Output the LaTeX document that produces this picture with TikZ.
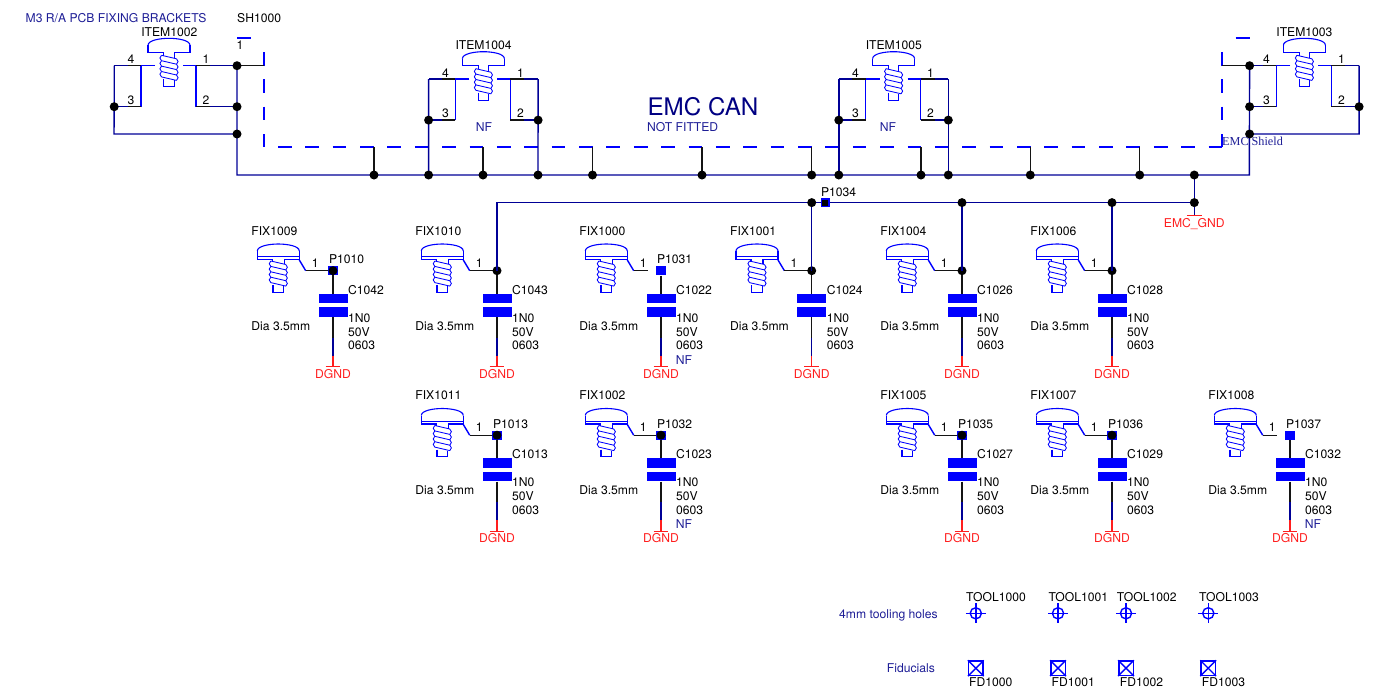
\documentclass[tikz,border=0pt]{standalone}
\usepackage{fontspec}
\setmainfont{TeX Gyre Heros}
\newfontfamily\serifface{Liberation Serif}
\definecolor{wirec}{RGB}{0,0,150}
\definecolor{titlec}{RGB}{30,30,150}
\definecolor{canc}{RGB}{0,0,130}
\definecolor{pinc}{RGB}{20,20,20}
\definecolor{symc}{RGB}{0,0,255}
\definecolor{gndc}{RGB}{255,30,30}
\tikzset{
  wire/.style={draw=wirec,line width=1.4pt,line join=miter},
  pinline/.style={draw=pinc,line width=1.3pt},
  symline/.style={draw=symc,line width=1.4pt},
  thin sym/.style={draw=symc,line width=1.1pt},
  thread sym/.style={draw=symc,line width=0.85pt},
  gndline/.style={draw=gndc,line width=1.4pt},
  shield/.style={draw=symc,line width=1.5pt,dash pattern=on 13.7pt off 13.67pt},
  junction/.style={circle,fill=black,inner sep=0pt,minimum size=9pt},
  padsq/.style={rectangle,fill=symc,inner sep=0pt,minimum size=9.4pt},
  plate/.style={rectangle,fill=symc,inner sep=0pt,minimum width=29pt,minimum height=9.6pt},
  lbl/.style={inner sep=0pt,text height=8.6pt,text depth=0pt,font=\fontsize{12.15}{14}\selectfont,text=black},
  lblw/.style={lbl,anchor=west},
  blu/.style={lbl,text=titlec},
  bluw/.style={blu,anchor=west},
  gnd/.style={lbl,text=gndc},
}
% screw body, origin at centre of the top of the head
\newcommand\screwbody{%
  \draw[thin sym] (-21,7) .. controls (-21,2) and (-9,0) .. (0,0) .. controls (9,0) and (21,2) .. (21,7);
  \foreach \ty in {17,22.4,27.8,33.2,38.6}{
    \draw[thread sym] (-7.5,\ty) -- (7.5,\ty+3.5);
  }
  \foreach \ty in {17,22.4,27.8,33.2}{
    \draw[thread sym] (-7.5,\ty) .. controls (-9.6,\ty+1) and (-9.6,\ty+4.4) .. (-7.5,\ty+5.4);
    \draw[thread sym] (7.5,\ty+3.5) .. controls (9.6,\ty+4.5) and (9.6,\ty+7.9) .. (7.5,\ty+8.9);
  }
  \draw[thin sym] (-5.3,41) -- (-5.3,48.4) -- (5.3,48.4) -- (5.3,42);
}
\newcommand\screwhead{%
  \draw[thin sym] (-21,7) -- (-21,14) -- (-5.3,14) -- (-5.3,17.5);
  \draw[thin sym] (21,7) -- (21,14) -- (5.3,14) -- (5.3,20);
  \screwbody
}
\newcommand\screwfix{%
  \draw[thin sym] (-21,7) -- (-21,15.5) -- (-6,15.5) -- (-6,17.5);
  \draw[thin sym] (21,7) -- (21,15.5) -- (6,15.5) -- (6,20);
  \draw[thin sym] (-21,12.8) -- (21,12.8);
  \screwbody
}
% id, cx, ytop, right outer offset
\newcommand\itemsym[4]{%
  \begin{scope}[shift={(#2,#3)}]
    \screwhead
    \coordinate (#1lo) at (-54.8,27.4);  \coordinate (#1lm) at (-41.5,27.4);
    \coordinate (#1li) at (-28,27.4);    \coordinate (#1lp) at (-14,27.4);
    \coordinate (#1bo) at (-54.8,68.4);  \coordinate (#1bm) at (-41.5,68.4);
    \coordinate (#1bi) at (-28,68.4);
    \coordinate (#1ro) at (#4,27.4);     \coordinate (#1rm) at (41,27.4);
    \coordinate (#1ri) at (27,27.4);     \coordinate (#1rp) at (14,27.4);
    \coordinate (#1so) at (#4,68.4);     \coordinate (#1sm) at (41,68.4);
    \coordinate (#1si) at (27,68.4);
    \draw[symline] (#1lp) -- (#1li) -- (#1bi);
    \draw[symline] (#1rp) -- (#1ri) -- (#1si);
    \draw[pinline] (#1li) -- (#1lm);
    \draw[pinline] (#1bi) -- (#1bm);
    \draw[pinline] (#1ri) -- (#1rm);
    \draw[pinline] (#1si) -- (#1sm);
    \draw[wire] (#1lm) -- (#1lo);
    \draw[wire] (#1bm) -- (#1bo);
    \draw[wire] (#1rm) -- (#1ro);
    \draw[wire] (#1sm) -- (#1so);
    \node[lbl] (#1n4) at (-38,21) {4};
    \node[lbl] (#1n3) at (-38,61.7) {3};
    \node[lbl] (#1n1) at (37,21) {1};
    \node[lbl] (#1n2) at (37,61.7) {2};
  \end{scope}
}
% id, cx, dy, FIX, P, C, kind(0 wire dot,1 pad+dot,2 pad only), NF text
\newcommand\fixunit[8]{%
  \begin{scope}[shift={(#2,270.7+#3)}]
    \begin{scope}[shift={(-54.7,-26.7)}]\screwfix\end{scope}
    \node[lblw] (#1fx) at (-81.8,-40) {#4};
    \coordinate (#1p0) at (-33.7,-10.7);
    \coordinate (#1p1) at (-27.3,0);
    \coordinate (#1p2) at (-13,0);
    \coordinate (#1dc) at (0,0);
    \draw[symline] (#1p0) -- (#1p1);
    \ifnum#7=2
      \draw[pinline] (#1p1) -- (#1p2);
      \node[padsq] (#1dot) at (#1dc) {};
    \else
      \draw[pinline] (#1p1) -- (#1dc);
      \ifnum#7=1 \node[padsq] (#1sq) at (#1dc) {};\fi
      \node[junction] (#1dot) at (#1dc) {};
    \fi
    \node[lblw] (#1pl) at (-4.2,-11.4) {#5};
    \node[plate] (#1ca) at (0,27.8) {};
    \node[plate] (#1cb) at (0,41.3) {};
    \coordinate (#1w1) at (0,67);
    \coordinate (#1w2) at (0,85);
    \coordinate (#1gc) at (0,96);
    \coordinate (#1gl) at (-7.3,96);
    \coordinate (#1gr) at (7.3,96);
    \draw[pinline] (#1dot) -- (#1ca);
    \draw[pinline] (#1cb) -- (#1w1);
    \draw[wire] (#1w1) -- (#1w2);
    \draw[gndline] (#1w2) -- (#1gc);
    \draw[gndline] (#1gl) -- (#1gr);
    \node[lbl] (#1one) at (-17.7,-7.7) {1};
    \node[lblw] (#1cl) at (15,19.3) {#6};
    \node[lblw] (#1v1) at (15,47.3) {1N0};
    \node[lblw] (#1v2) at (15,61.3) {50V};
    \node[lblw] (#1v3) at (15,74.8) {0603};
    \node[bluw] (#1nf) at (14.7,89.3) {#8};
    \node[lblw] (#1di) at (-81.8,55.3) {Dia 3.5mm};
    \node[gnd] (#1dg) at (0,103.3) {DGND};
  \end{scope}
}
\newcommand\toolhole[3]{%
  \coordinate (#1c) at (#2,613.3);
  \coordinate (#1l) at (#2-10,613.3); \coordinate (#1r) at (#2+10,613.3);
  \coordinate (#1t) at (#2,603.3);    \coordinate (#1b) at (#2,623.3);
  \draw[symline] (#1l) -- (#1r);
  \draw[symline] (#1t) -- (#1b);
  \draw[symline] (#1c) circle (5.6);
}
\newcommand\fiducial[2]{%
  \node[draw=symc,line width=1.4pt,rectangle,inner sep=0pt,minimum size=14.4pt] (#1) at (#2,668.2) {};
  \draw[symline] (#1.north west) -- (#1.south east);
  \draw[symline] (#1.north east) -- (#1.south west);
}
\begin{document}
\begin{tikzpicture}[x=1pt,y=-1pt]
\useasboundingbox (0,0) rectangle (1398,697);

% ---- shield outline
\coordinate (sa) at (264,52);
\coordinate (sb) at (264,147.2);
\coordinate (sc) at (278,147.2);
\coordinate (sd) at (1222,147.2);
\coordinate (se) at (1222,52);
\coordinate (sf) at (237,38);
\coordinate (sg) at (251,38);
\coordinate (sh) at (1235.5,38);
\coordinate (si) at (1249.5,38);
\draw[shield] (sa) -- (sb);
\draw[shield] (sc) -- (sd);
\draw[shield] (se) -- (sd);
\draw[symline] (sf) -- (sg);
\draw[symline] (sh) -- (si);

% ---- brackets
\itemsym{ia}{169}{38.3}{68}
\itemsym{ib}{483.4}{51.7}{54.7}
\itemsym{ic}{893.6}{51.7}{54.7}
\itemsym{id}{1304.4}{38.3}{54.7}

% ---- main bus junctions
\foreach \n/\px in {a/374,b/483,c/592.5,d/702,e/811.7,f/921,g/1030.3,h/1139.7}{
  \coordinate (bus\n) at (\px,175);
  \coordinate (top\n) at (\px,147.2);
  \draw[pinline] (top\n) -- (bus\n);
}
\coordinate (busl) at (237,175);
\coordinate (busr) at (1249.3,175);
\coordinate (busm) at (1194.3,175);
\coordinate (busib) at (428.6,175);
\coordinate (busic) at (538,175);
\coordinate (busid) at (838.8,175);
\coordinate (busie) at (948.3,175);
\coordinate (iac) at (114,134);
\coordinate (iaj) at (237,134);
\draw[wire] (ialo) -- (iabo) -- (iac) -- (iaj);
\draw[wire] (iaro) -- (busl) -- (busr) -- (idlo);
\coordinate (idj) at (1249.6,134);
\coordinate (idc) at (1359.1,134);
\draw[wire] (idro) -- (idc) -- (idj);
\draw[wire] (iblo) -- (busib);
\draw[wire] (ibro) -- (busic);
\draw[wire] (iclo) -- (busid);
\draw[wire] (icro) -- (busie);
\coordinate (sstub) at (264,65.7);
\coordinate (rstub) at (1222,65.7);
\draw[pinline] (iaro) -- (sstub);
\draw[pinline] (idlo) -- (rstub);

% ---- second bus
\coordinate (bb) at (497,202.6);
\coordinate (be) at (811.7,202.6);
\coordinate (bf) at (962,202.6);
\coordinate (bg) at (1112,202.6);
\coordinate (bh) at (1194.3,202.6);
\coordinate (bgnd) at (1194.3,215.7);
\coordinate (bgl) at (1187,215.7);
\coordinate (bgr) at (1201.6,215.7);
\coordinate (bp) at (825.3,202.6);

% ---- fixing units
\fixunit{ua}{333}{0}{FIX1009}{P1010}{C1042}{1}{}
\fixunit{ub}{497}{0}{FIX1010}{}{C1043}{0}{}
\fixunit{uc}{661}{0}{FIX1000}{P1031}{C1022}{2}{NF}
\fixunit{ud}{811.7}{0}{FIX1001}{}{C1024}{0}{}
\fixunit{ue}{962}{0}{FIX1004}{}{C1026}{0}{}
\fixunit{uf}{1112}{0}{FIX1006}{}{C1028}{0}{}
\fixunit{va}{497}{164.5}{FIX1011}{P1013}{C1013}{1}{}
\fixunit{vb}{661}{164.5}{FIX1002}{P1032}{C1023}{1}{NF}
\fixunit{vc}{962}{164.5}{FIX1005}{P1035}{C1027}{1}{}
\fixunit{vd}{1112}{164.5}{FIX1007}{P1036}{C1029}{1}{}
\fixunit{ve}{1290}{164.5}{FIX1008}{P1037}{C1032}{2}{NF}

\draw[wire] (ubdc) -- (bb) -- (bh) -- (busm);
\draw[wire] (uddc) -- (be);
\draw[wire] (uedc) -- (bf);
\draw[wire] (ufdc) -- (bg);
\draw[wire] (bh) -- (bgnd);
\draw[gndline] (bgl) -- (bgr);

% ---- junction dots
\foreach \n in {a,b,c,d,e,f,g,h,ib,ic,id,ie}{
  \node[junction] (dbus\n) at (bus\n) {};
}
\node[junction] (dbusm) at (busm) {};
\node[junction] (dia1) at (iaro) {};
\node[junction] (dia2) at (iaso) {};
\node[junction] (dia3) at (iaj) {};
\node[junction] (dia4) at (iabo) {};
\node[junction] (dib1) at (ibbo) {};
\node[junction] (dib2) at (ibso) {};
\node[junction] (dic1) at (icbo) {};
\node[junction] (dic2) at (icso) {};
\node[junction] (did1) at (idlo) {};
\node[junction] (did2) at (idbo) {};
\node[junction] (did3) at (idj) {};
\node[junction] (did4) at (idso) {};
\node[junction] (dbe) at (be) {};
\node[junction] (dbf) at (bf) {};
\node[junction] (dbg) at (bg) {};
\node[junction] (dbh) at (bh) {};
\node[padsq] (psq) at (bp) {};
\node[inner sep=0pt,fill=black,minimum size=6pt] (psqc) at (bp) {};

% ---- texts
\node[bluw] (ttl) at (25.5,17.7) {M3 R/A PCB FIXING BRACKETS};
\node[lblw] (sh) at (237,17.7) {SH1000};
\node[lbl] (sh1) at (240,45) {1};
\node[lbl] (nia) at (169.3,31.7) {ITEM1002};
\node[lbl] (nib) at (483.6,45) {ITEM1004};
\node[lbl] (nic) at (893.8,45) {ITEM1005};
\node[lbl] (nid) at (1304.4,31.7) {ITEM1003};
\node[blu] (nfa) at (484,127) {NF};
\node[blu] (nfb) at (888,127) {NF};
\node[anchor=west,inner sep=0pt,text height=17.2pt,text depth=0pt,text=canc,font=\fontsize{24.2}{28}\selectfont] (can) at (647.3,106.5) {EMC CAN};
\node[bluw] (nfit) at (647,127) {NOT FITTED};
\node[anchor=west,inner sep=0pt,text height=8pt,text depth=0pt,text=titlec,font=\serifface\fontsize{12.2}{14}\selectfont] (shd) at (1222,141) {EMC Shield};
\node[lblw] (p34) at (820.8,191.7) {P1034};
\node[gnd] (eg) at (1194.3,223) {EMC\_GND};

% ---- tooling and fiducials
\toolhole{ta}{975.8}{}
\toolhole{tb}{1058}{}
\toolhole{tc}{1126}{}
\toolhole{td}{1208.3}{}
\node[lblw] (tla) at (966,596.7) {TOOL1000};
\node[lblw] (tlb) at (1048.3,596.7) {TOOL1001};
\node[lblw] (tlc) at (1116.7,596.7) {TOOL1002};
\node[lblw] (tld) at (1199,596.7) {TOOL1003};
\node[bluw] (thl) at (839,614) {4mm tooling holes};
\node[bluw] (fid) at (886.7,667.7) {Fiducials};
\fiducial{fa}{975.8}
\fiducial{fb}{1058}
\fiducial{fc}{1126}
\fiducial{fd}{1208.2}
\node[lblw] (fla) at (969,681.7) {FD1000};
\node[lblw] (flb) at (1051.4,681.7) {FD1001};
\node[lblw] (flc) at (1119.7,681.7) {FD1002};
\node[lblw] (fld) at (1201.7,681.7) {FD1003};
\end{tikzpicture}
\end{document}
